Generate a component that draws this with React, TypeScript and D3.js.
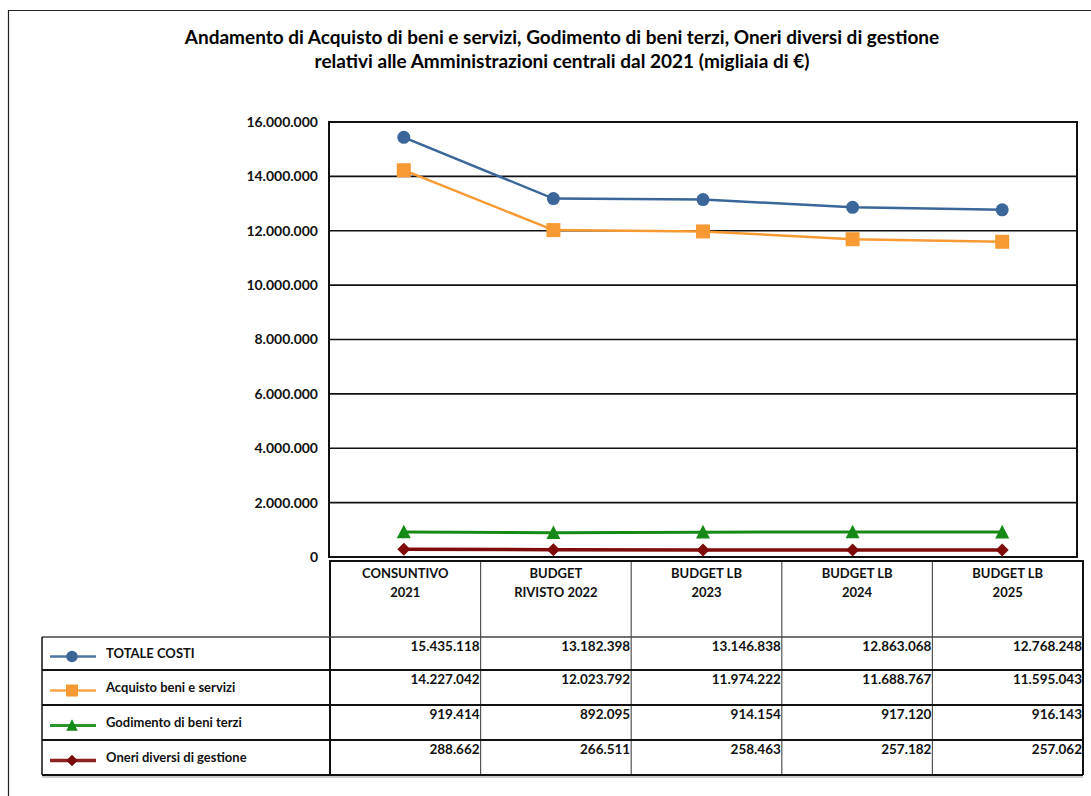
import React, { useEffect, useRef } from 'react';
import * as d3 from 'd3';

const TITLE_LINES = [
  'Andamento di Acquisto di beni e servizi, Godimento di beni terzi, Oneri diversi di gestione',
  'relativi alle Amministrazioni centrali dal 2021 (migliaia di €)'
];

const CATEGORIES = [
  ['CONSUNTIVO', '2021'],
  ['BUDGET', 'RIVISTO 2022'],
  ['BUDGET LB', '2023'],
  ['BUDGET LB', '2024'],
  ['BUDGET LB', '2025']
];

const TOTALE_COSTI = [15435118, 13182398, 13146838, 12863068, 12768248];
const ACQUISTO = [14227042, 12023792, 11974222, 11688767, 11595043];
const GODIMENTO = [919414, 892095, 914154, 917120, 916143];
const ONERI = [288662, 266511, 258463, 257182, 257062];

const Y_TICKS = [0, 2000000, 4000000, 6000000, 8000000, 10000000, 12000000, 14000000, 16000000];

interface Series {
  name: string;
  values: number[];
  color: string;
  marker: 'circle' | 'square' | 'triangle' | 'diamond';
  width: number;
}

const SERIES: Series[] = [
  { name: 'TOTALE COSTI', values: TOTALE_COSTI, color: '#3A6699', marker: 'circle', width: 2.5 },
  { name: 'Acquisto beni e servizi', values: ACQUISTO, color: '#F79A33', marker: 'square', width: 2.5 },
  { name: 'Godimento di beni terzi', values: GODIMENTO, color: '#168A16', marker: 'triangle', width: 3 },
  { name: 'Oneri diversi di gestione', values: ONERI, color: '#7F0A0A', marker: 'diamond', width: 3.5 }
];

const FONT = 'Lato, "Open Sans", sans-serif';

const itLocale = d3.formatLocale({ decimal: ',', thousands: '.', grouping: [3], currency: ['€', ''] });
const fmt = itLocale.format(',d');

const drawMarker = (
  g: d3.Selection<SVGGElement, unknown, null, undefined>,
  type: Series['marker'],
  cx: number,
  cy: number,
  size: number,
  color: string
) => {
  if (type === 'circle') {
    g.append('circle').attr('cx', cx).attr('cy', cy).attr('r', size / 2).attr('fill', color);
  } else if (type === 'square') {
    g.append('rect').attr('x', cx - size / 2).attr('y', cy - size / 2)
      .attr('width', size).attr('height', size).attr('fill', color);
  } else if (type === 'triangle') {
    const h = size * 0.9;
    g.append('path')
      .attr('d', `M${cx},${cy - h / 2 - 1}L${cx + size / 2},${cy + h / 2}L${cx - size / 2},${cy + h / 2}Z`)
      .attr('fill', color);
  } else {
    const r = size / 2;
    g.append('path')
      .attr('d', `M${cx},${cy - r}L${cx + r},${cy}L${cx},${cy + r}L${cx - r},${cy}Z`)
      .attr('fill', color);
  }
};

const App: React.FC = () => {
  const ref = useRef<SVGSVGElement>(null);

  useEffect(() => {
    if (!ref.current) return;
    const svg = d3.select(ref.current);
    svg.selectAll('*').remove();

    const W = 1091, H = 796;
    const plot = { left: 329, right: 1077, top: 122, bottom: 557 };
    const table = { left: 330, right: 1083, top: 561, headBottom: 637 };
    const rowLines = [637, 670, 705, 740, 775];
    const legendLeft = 42;

    svg.append('rect').attr('width', W).attr('height', H).attr('fill', '#fff');

    // outer frame (open to the right/bottom like the page crop)
    svg.append('path')
      .attr('d', `M8.5,${H}V10.5H${W}`)
      .attr('fill', 'none').attr('stroke', '#222').attr('stroke-width', 1.2);

    // title
    svg.append('text')
      .attr('x', 562).attr('text-anchor', 'middle')
      .attr('font-family', FONT).attr('font-weight', 700).attr('font-size', 19)
      .selectAll('tspan').data(TITLE_LINES).enter().append('tspan')
      .attr('x', 562).attr('y', (_, i) => 44 + i * 24)
      .text(d => d);

    const x = d3.scaleBand<number>().domain(d3.range(CATEGORIES.length)).range([plot.left, plot.right]);
    const xc = (i: number) => (x(i) as number) + x.bandwidth() / 2;
    const y = d3.scaleLinear().domain([0, 16000000]).range([plot.bottom, plot.top]);

    // gridlines
    svg.append('g').selectAll('line').data(Y_TICKS.filter(t => t > 0)).enter().append('line')
      .attr('x1', plot.left).attr('x2', plot.right)
      .attr('y1', d => y(d)).attr('y2', d => y(d))
      .attr('stroke', '#111').attr('stroke-width', 1.6);

    svg.append('rect')
      .attr('x', plot.left).attr('y', plot.top)
      .attr('width', plot.right - plot.left).attr('height', plot.bottom - plot.top)
      .attr('fill', 'none').attr('stroke', '#111').attr('stroke-width', 2);

    // y labels
    svg.append('g').selectAll('text').data(Y_TICKS).enter().append('text')
      .attr('x', 318).attr('y', d => y(d)).attr('dy', '0.35em')
      .attr('text-anchor', 'end')
      .attr('font-family', FONT).attr('font-weight', 700).attr('font-size', 14)
      .attr('fill', '#111')
      .text(d => fmt(d));

    // series
    const line = d3.line<number>().x((_, i) => xc(i)).y(d => y(d));
    SERIES.forEach(s => {
      svg.append('path').datum(s.values)
        .attr('d', line).attr('fill', 'none')
        .attr('stroke', s.color).attr('stroke-width', s.width);
      const mg = svg.append('g');
      const size = s.marker === 'circle' ? 13 : s.marker === 'diamond' ? 13 : 14;
      s.values.forEach((v, i) => drawMarker(mg, s.marker, xc(i), y(v), size, s.color));
    });

    // data table
    const tx = d3.scaleBand<number>().domain(d3.range(CATEGORIES.length)).range([table.left, table.right]);
    const tb = svg.append('g');

    // header text
    CATEGORIES.forEach((c, i) => {
      const cx = (tx(i) as number) + tx.bandwidth() / 2;
      tb.append('text')
        .attr('text-anchor', 'middle')
        .attr('font-family', FONT).attr('font-weight', 700).attr('font-size', 13)
        .attr('fill', '#111')
        .selectAll('tspan').data(c).enter().append('tspan')
        .attr('x', cx).attr('y', (_, k) => 578 + k * 19)
        .text(d => d);
    });

    // vertical inner lines (thin gray)
    d3.range(1, CATEGORIES.length).forEach(i => {
      tb.append('line')
        .attr('x1', tx(i) as number).attr('x2', tx(i) as number)
        .attr('y1', table.top).attr('y2', rowLines[rowLines.length - 1])
        .attr('stroke', '#555').attr('stroke-width', 1.2);
    });

    // header box
    tb.append('path')
      .attr('d', `M${table.left},${table.headBottom}V${table.top}H${table.right}V${rowLines[rowLines.length - 1]}`)
      .attr('fill', 'none').attr('stroke', '#111').attr('stroke-width', 2);
    tb.append('line')
      .attr('x1', table.left).attr('x2', table.left)
      .attr('y1', table.top).attr('y2', rowLines[rowLines.length - 1])
      .attr('stroke', '#111').attr('stroke-width', 2);

    // row lines
    rowLines.forEach((ly, k) => {
      tb.append('line')
        .attr('x1', legendLeft).attr('x2', table.right)
        .attr('y1', ly).attr('y2', ly)
        .attr('stroke', k === 0 ? '#444' : '#111')
        .attr('stroke-width', k === 0 ? 1.5 : 2.2);
    });
    tb.append('line')
      .attr('x1', legendLeft).attr('x2', table.right)
      .attr('y1', rowLines[rowLines.length - 1] + 2).attr('y2', rowLines[rowLines.length - 1] + 2)
      .attr('stroke', '#999').attr('stroke-width', 1);
    tb.append('line')
      .attr('x1', legendLeft).attr('x2', legendLeft)
      .attr('y1', rowLines[0]).attr('y2', rowLines[rowLines.length - 1])
      .attr('stroke', '#111').attr('stroke-width', 1.5);

    // rows: legend + values
    SERIES.forEach((s, r) => {
      const top = rowLines[r];
      const bottom = rowLines[r + 1];
      const mid = (top + bottom) / 2;
      tb.append('line')
        .attr('x1', 50).attr('x2', 96)
        .attr('y1', mid + 3).attr('y2', mid + 3)
        .attr('stroke', s.color).attr('stroke-width', s.width)
        .attr('stroke-opacity', 0.9);
      const lg = tb.append('g');
      drawMarker(lg, s.marker, 72, mid + 3, s.marker === 'square' ? 12 : 11.5, s.color);
      tb.append('text')
        .attr('x', 106).attr('y', mid).attr('dy', '0.35em')
        .attr('font-family', FONT).attr('font-weight', 700).attr('font-size', 13)
        .attr('fill', '#111')
        .text(s.name);
      s.values.forEach((v, i) => {
        tb.append('text')
          .attr('x', (tx(i) as number) + tx.bandwidth() - 1).attr('y', top + 14)
          .attr('text-anchor', 'end')
          .attr('font-family', FONT).attr('font-weight', 700).attr('font-size', 13.5)
          .attr('fill', '#111')
          .text(fmt(v));
      });
    });
  }, []);

  return (
    <div style={{ position: 'absolute', left: 0, top: 0 }}>
      <svg ref={ref} width={1091} height={796} style={{ display: 'block' }} />
    </div>
  );
};

export default App;
